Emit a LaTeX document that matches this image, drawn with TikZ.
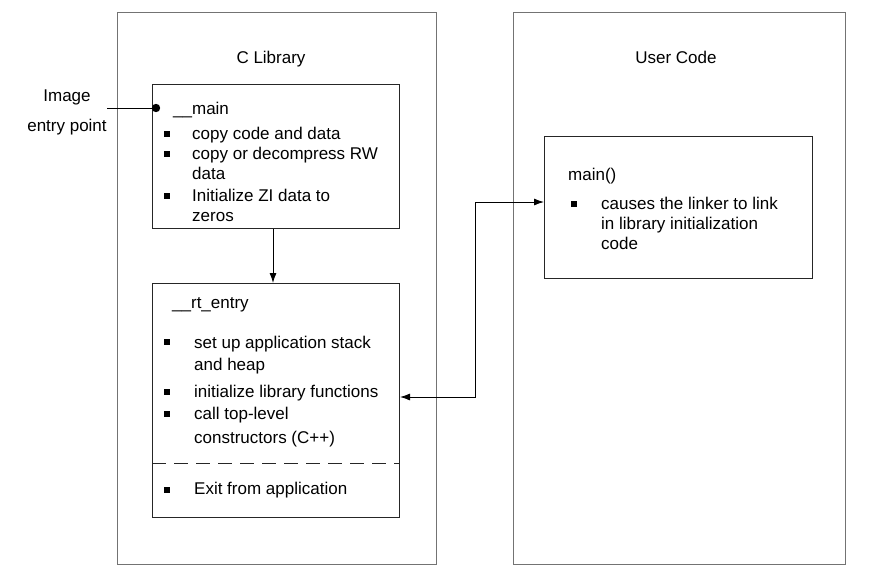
\documentclass[tikz,border=0pt]{standalone}
\usepackage{fontspec}
\setmainfont{Liberation Sans}
\usetikzlibrary{arrows.meta, positioning}

\begin{document}
\begin{tikzpicture}[x=1pt,y=-1pt,
    outerbox/.style={draw=black!55, line width=1pt, anchor=north west, inner sep=0pt},
    innerbox/.style={draw=black!85, line width=1pt, anchor=north west, inner sep=0pt},
    lbl/.style={inner sep=0pt, font=\fontsize{17}{30}\selectfont},
    txt/.style={lbl, anchor=west, yshift=-2pt, text height=12pt, text depth=3.5pt},
    bulletbox/.style={fill=black, minimum size=6pt, inner sep=0pt},
    link/.style={line width=0.9pt, -{Latex[length=10pt,width=7pt]}}]
  \useasboundingbox (0,0) rectangle (895,581);

  % outer frames
  \node[outerbox, minimum width=319pt, minimum height=552pt] (clib) at (117,12) {};
  \node[outerbox, minimum width=332pt, minimum height=552pt] (user) at (513,12) {};
  \node[txt, anchor=center] (clibtitle) at (271,57) {C Library};
  \node[txt, anchor=center] (usertitle) at (676,57) {User Code};

  % __main
  \node[innerbox, minimum width=247pt, minimum height=144pt] (mainbox) at (152,84) {};
  \node[txt] (maintitle) at (173,108) {\_\_main};
  \foreach \n/\y/\t in {m1/133/copy code and data, m2/153/copy or decompress RW, m3/173/data,
                        m4/195/Initialize ZI data to, m5/215/zeros}
    \node[txt] (\n) at (192,\y) {\t};
  \foreach \y [count=\i] in {134,154,196}
    \node[bulletbox] (mb\i) at (167,\y) {};

  % image entry point
  \node[lbl, align=center] (entry) at (67,112) {Image\\entry point};
  \fill (156,108) circle (4.2pt) coordinate (entrydot);
  \draw[line width=0.9pt] (107,108) coordinate (entryend) -- (entrydot);

  % __rt_entry
  \node[innerbox, minimum width=247pt, minimum height=234pt] (rtbox) at (152,283) {};
  \node[txt] (rttitle) at (172,302) {\_\_rt\_entry};
  \foreach \n/\y/\t in {r1/342/set up application stack, r2/364/and heap, r3/391/initialize library functions,
                        r4/413/call top-level, r5/437/constructors (C++), r6/488/Exit from application}
    \node[txt] (\n) at (194,\y) {\t};
  \foreach \y [count=\i] in {342,392,414,490}
    \node[bulletbox] (rb\i) at (167,\y) {};
  \draw[line width=1pt, black!85, dash pattern=on 14pt off 8pt] (rtbox.west |- 0,463) -- (rtbox.east |- 0,463);

  % main()
  \node[innerbox, minimum width=268pt, minimum height=142pt] (userbox) at (544,136) {};
  \node[txt] (utitle) at (568,174) {main()};
  \foreach \n/\y/\t in {u1/203/causes the linker to link, u2/223/in library initialization, u3/243/code}
    \node[txt] (\n) at (601,\y) {\t};
  \node[bulletbox] (ub1) at (574,204) {};

  % connectors
  \draw[link] ([xshift=-3pt]mainbox.south) -- ([xshift=-3pt]rtbox.north);
  \coordinate (turn) at (475,202);
  \draw[link, {Latex[length=10pt,width=7pt]}-{Latex[length=10pt,width=7pt]}]
    (rtbox.east |- 0,397) -| (turn) -- (userbox.west |- turn);
\end{tikzpicture}
\end{document}
